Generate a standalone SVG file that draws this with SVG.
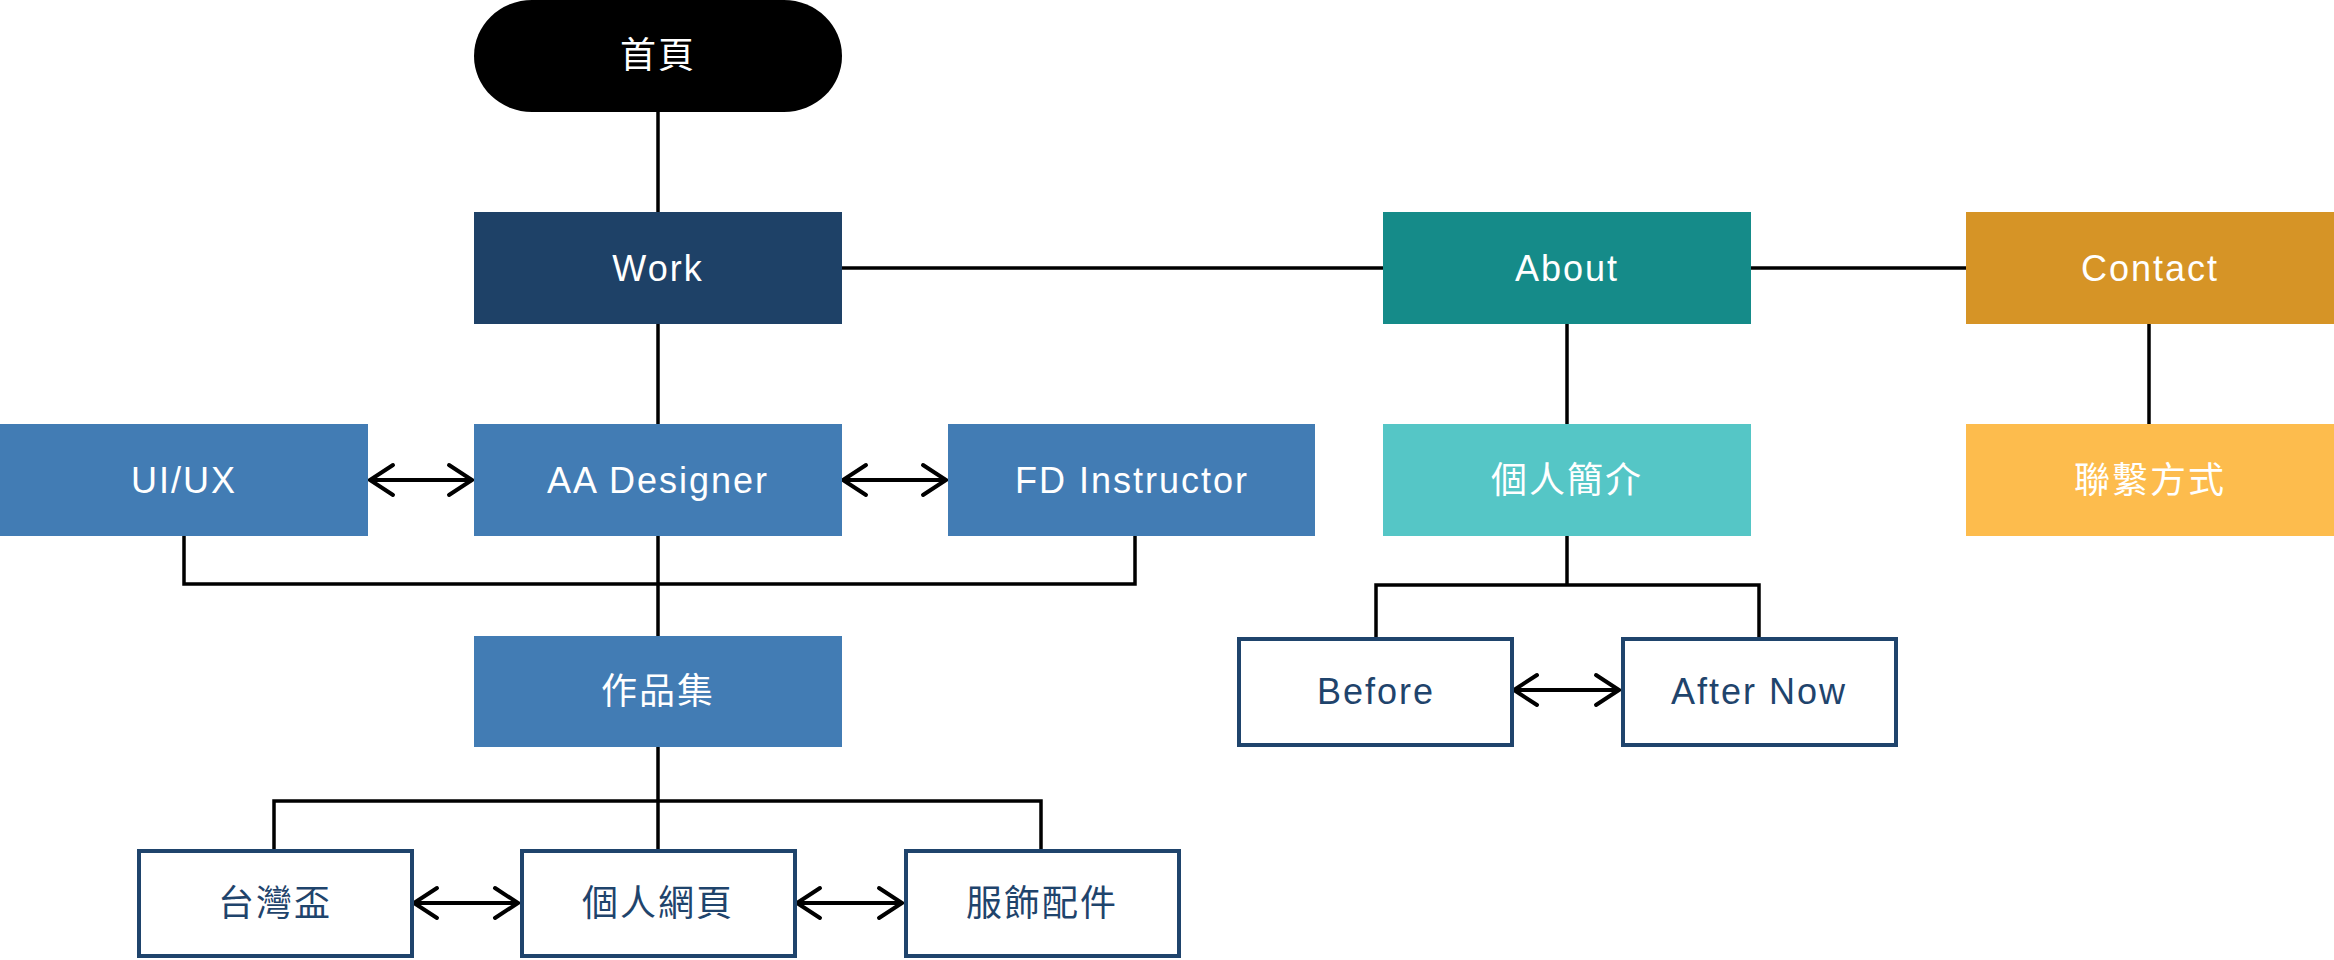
<svg xmlns="http://www.w3.org/2000/svg" width="2334" height="960" viewBox="0 0 2334 960">
<style>
text{font-family:"Liberation Sans","Noto Sans CJK TC",Arial,sans-serif;font-size:36px;text-anchor:middle;letter-spacing:2px}
.w{fill:#ffffff}
.n{fill:#1f446c}
.ol{fill:#ffffff;stroke:#1f446c;stroke-width:4}
.c{fill:none;stroke:#000;stroke-width:3.5}
.a{fill:none;stroke:#000;stroke-width:4;marker-start:url(#ah);marker-end:url(#ah)}
</style>
<defs>
<marker id="ah" viewBox="-26 -18 30 36" markerWidth="30" markerHeight="36" refX="0" refY="0" orient="auto-start-reverse" markerUnits="userSpaceOnUse">
<path d="M-23,-15 L0,0 L-23,15" fill="none" stroke="#000" stroke-width="4" stroke-linecap="round" stroke-linejoin="miter"/>
</marker>
</defs>
<rect width="2334" height="960" fill="#ffffff"/>
<g id="connectors">
<path class="c" d="M658,112 V212"/>
<path class="c" d="M842,268 H1383"/>
<path class="c" d="M1751,268 H1966"/>
<path class="c" d="M658,324 V424"/>
<path class="c" d="M658,536 V636"/>
<path class="c" d="M184,536 V584 H1135 V536"/>
<path class="c" d="M658,747 V849"/>
<path class="c" d="M274,849 V801 H1041 V849"/>
<path class="c" d="M1567,324 V424"/>
<path class="c" d="M2149,324 V424"/>
<path class="c" d="M1567,536 V585"/>
<path class="c" d="M1376,637 V585 H1759 V637"/>
<path class="a" d="M370,480 H472"/>
<path class="a" d="M843,480 H946"/>
<path class="a" d="M414,903 H518"/>
<path class="a" d="M797,903 H902"/>
<path class="a" d="M1514,690 H1619"/>
</g>
<g id="home"><rect x="474" y="0" width="368" height="112" rx="58" ry="56" fill="#000"/><text class="w" x="658" y="68">首頁</text></g>
<g id="work"><rect x="474" y="212" width="368" height="112" fill="#1e4167"/><text class="w" x="658" y="281">Work</text></g>
<g id="about"><rect x="1383" y="212" width="368" height="112" fill="#158b89"/><text class="w" x="1567" y="281">About</text></g>
<g id="contact"><rect x="1966" y="212" width="368" height="112" fill="#d69426"/><text class="w" x="2150" y="281">Contact</text></g>
<g id="uiux"><rect x="0" y="424" width="368" height="112" fill="#427cb4"/><text class="w" x="184" y="493">UI/UX</text></g>
<g id="aa"><rect x="474" y="424" width="368" height="112" fill="#427cb4"/><text class="w" x="658" y="493">AA Designer</text></g>
<g id="fd"><rect x="948" y="424" width="367" height="112" fill="#427cb4"/><text class="w" x="1132" y="493">FD Instructor</text></g>
<g id="profile"><rect x="1383" y="424" width="368" height="112" fill="#55c6c6"/><text class="w" x="1567" y="493">個人簡介</text></g>
<g id="contactinfo"><rect x="1966" y="424" width="368" height="112" fill="#fdbc4d"/><text class="w" x="2150" y="493">聯繫方式</text></g>
<g id="portfolio"><rect x="474" y="636" width="368" height="111" fill="#427cb4"/><text class="w" x="658" y="704">作品集</text></g>
<g id="before"><rect class="ol" x="1239" y="639" width="273" height="106"/><text class="n" x="1376" y="704">Before</text></g>
<g id="afternow"><rect class="ol" x="1623" y="639" width="273" height="106"/><text class="n" x="1759" y="704">After Now</text></g>
<g id="taiwan"><rect class="ol" x="139" y="851" width="273" height="105"/><text class="n" x="275" y="916">台灣盃</text></g>
<g id="personal"><rect class="ol" x="522" y="851" width="273" height="105"/><text class="n" x="658" y="916">個人網頁</text></g>
<g id="fashion"><rect class="ol" x="906" y="851" width="273" height="105"/><text class="n" x="1042" y="916">服飾配件</text></g>
</svg>
